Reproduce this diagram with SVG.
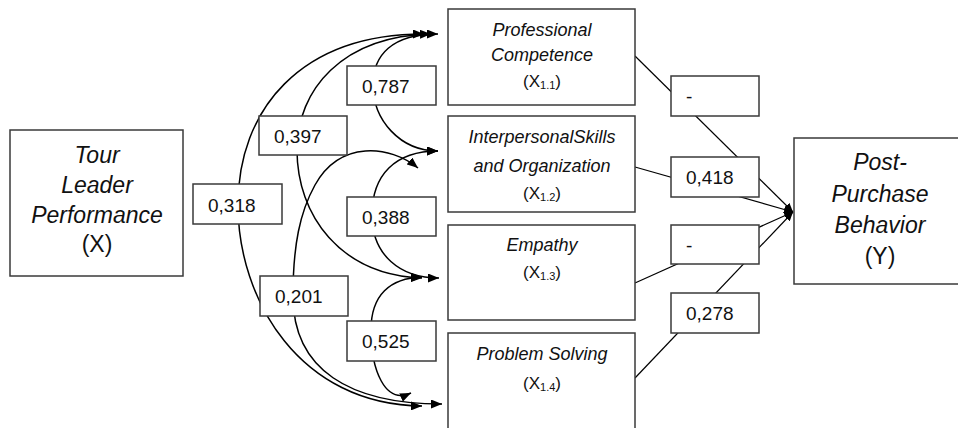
<svg xmlns="http://www.w3.org/2000/svg" width="958" height="428" viewBox="0 0 958 428">
  <defs>
    <!-- filled triangular arrowhead for the correlation arcs -->
    <marker id="ah" markerUnits="userSpaceOnUse" viewBox="0 0 11 9" refX="11" refY="4.5" markerWidth="11" markerHeight="9" orient="auto-start-reverse">
      <path d="M0,0 L11,4.5 L0,9 Z" fill="#000"/>
    </marker>
    <!-- smaller arrowhead for the paths into the outcome -->
    <marker id="ah2" markerUnits="userSpaceOnUse" viewBox="0 0 9 8" refX="9" refY="4" markerWidth="9" markerHeight="8" orient="auto">
      <path d="M0,0 L9,4 L0,8 Z" fill="#000"/>
    </marker>
    <style>
      .box { fill: #fff; stroke: #3a3a3a; stroke-width: 1.5; }
      .lbl { fill: #fff; stroke: #3a3a3a; stroke-width: 1.5; }
      .arc { fill: none; stroke: #000; stroke-width: 1.5; marker-start: url(#ah); marker-end: url(#ah); }
      .path { fill: none; stroke: #000; stroke-width: 1.2; marker-end: url(#ah2); }
      .t { font-family: "Liberation Sans", Arial, sans-serif; fill: #111; text-anchor: middle; }
      .it { font-style: italic; }
      .big { font-size: 23px; }
      .mid { font-size: 18px; }
      .var { font-size: 17px; }
      .sub { font-size: 11px; }
      .num { font-family: "Liberation Sans", Arial, sans-serif; font-size: 19px; fill: #111; }
    </style>
  </defs>

  <!-- connectors: correlation arcs and direct paths -->
  <g id="connectors">
    <path class="arc" d="M438 34 C392 34 373 55 373 85 C373 120 400 151 438 151"/>
    <path class="arc" d="M431 34 C342 36 297 90 297 150 C297 215 340 275 422 278"/>
    <path class="arc" d="M424 34 C300 34 238 110 238 205 C238 300 300 405 422 406"/>
    <path class="arc" d="M438 151 C395 151 372 175 372 215 C372 255 400 278 439 278"/>
    <path class="arc" d="M418 168 C390 145 340 140 315 185 C300 212 293 245 293 296 C293 370 350 404 442 404"/>
    <path class="arc" d="M422 277 C390 278 371 295 371 330 C371 370 385 405 411 393"/>

    <path class="path" d="M635 56 L793 212"/>
    <path class="path" d="M635 167 L793 212"/>
    <path class="path" d="M635 283 L793 212"/>
    <path class="path" d="M635 378 L793 212"/>
  </g>

  <!-- coefficient labels -->
  <g id="labels">
    <rect class="lbl" x="347" y="66" width="89" height="39"/>
    <text class="num" x="362" y="93">0,787</text>
    <rect class="lbl" x="259" y="116" width="88" height="39"/>
    <text class="num" x="274" y="143">0,397</text>
    <rect class="lbl" x="193" y="184" width="89" height="40"/>
    <text class="num" x="208" y="212">0,318</text>
    <rect class="lbl" x="347" y="197" width="89" height="39"/>
    <text class="num" x="362" y="224">0,388</text>
    <rect class="lbl" x="260" y="276" width="88" height="40"/>
    <text class="num" x="275" y="303">0,201</text>
    <rect class="lbl" x="347" y="321" width="89" height="40"/>
    <text class="num" x="362" y="348">0,525</text>

    <rect class="lbl" x="671" y="76" width="88" height="40"/>
    <text class="num" x="686" y="103">-</text>
    <rect class="lbl" x="671" y="157" width="88" height="40"/>
    <text class="num" x="686" y="184">0,418</text>
    <rect class="lbl" x="671" y="225" width="88" height="39"/>
    <text class="num" x="686" y="252">-</text>
    <rect class="lbl" x="671" y="293" width="88" height="40"/>
    <text class="num" x="686" y="320">0,278</text>
  </g>

  <g id="node-x">
    <rect class="box" x="10" y="130" width="173" height="146"/>
    <text class="t it big" x="97" y="163">Tour</text>
    <text class="t it big" x="97" y="193">Leader</text>
    <text class="t it big" x="97" y="223">Performance</text>
    <text class="t big" x="97" y="252">(X)</text>
  </g>

  <g id="node-x11">
    <rect class="box" x="448" y="9" width="187" height="96"/>
    <text class="t it mid" x="542" y="36">Professional</text>
    <text class="t it mid" x="542" y="61">Competence</text>
    <text class="t var" x="542" y="87">(X<tspan class="sub" dy="2">1.1</tspan><tspan dy="-2">)</tspan></text>
  </g>

  <g id="node-x12">
    <rect class="box" x="448" y="116" width="187" height="96"/>
    <text class="t it mid" x="542" y="143">InterpersonalSkills</text>
    <text class="t it mid" x="542" y="172">and Organization</text>
    <text class="t var" x="542" y="199">(X<tspan class="sub" dy="2">1.2</tspan><tspan dy="-2">)</tspan></text>
  </g>

  <g id="node-x13">
    <rect class="box" x="448" y="225" width="187" height="95"/>
    <text class="t it mid" x="542" y="251">Empathy</text>
    <text class="t var" x="542" y="278">(X<tspan class="sub" dy="2">1.3</tspan><tspan dy="-2">)</tspan></text>
  </g>

  <g id="node-x14">
    <rect class="box" x="448" y="333" width="187" height="110"/>
    <text class="t it mid" x="542" y="360">Problem Solving</text>
    <text class="t var" x="542" y="389">(X<tspan class="sub" dy="2">1.4</tspan><tspan dy="-2">)</tspan></text>
  </g>

  <g id="node-y">
    <rect class="box" x="794" y="138" width="180" height="146"/>
    <text class="t it big" x="880" y="170">Post-</text>
    <text class="t it big" x="880" y="202">Purchase</text>
    <text class="t it big" x="880" y="233">Behavior</text>
    <text class="t big" x="880" y="264">(Y)</text>
  </g>
</svg>
